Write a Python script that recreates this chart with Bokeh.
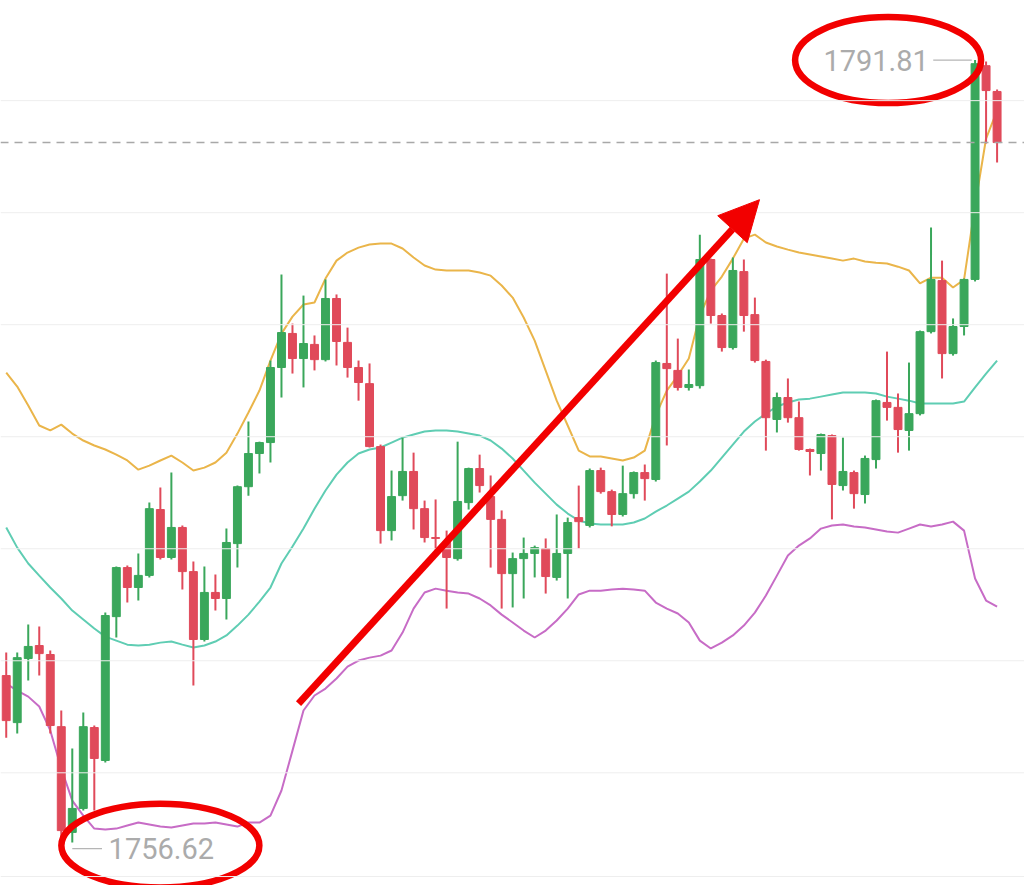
from bokeh.plotting import figure
from bokeh.models import Range1d, Span, Label, Arrow, NormalHead, ColumnDataSource
from bokeh.embed import file_html
from bokeh.resources import INLINE

# ---- data ----
opens = [1764.34, 1762.24, 1765.10, 1765.68, 1765.28, 1762.06, 1757.34, 1758.41, 1762.02, 1760.55,
 1766.97, 1769.16, 1768.27, 1768.81, 1771.75, 1769.61, 1770.95, 1768.98, 1765.95, 1768.05,
 1767.78, 1770.23, 1772.77, 1774.25, 1774.74, 1778.09, 1779.61, 1778.49, 1779.12, 1778.44,
 1781.17, 1779.21, 1778.09, 1777.37, 1774.56, 1770.81, 1772.37, 1773.45, 1771.79, 1770.50,
 1770.28, 1769.56, 1772.06, 1773.58, 1772.33, 1771.31, 1768.89, 1769.56, 1769.79, 1770.01,
 1768.72, 1769.79, 1771.39, 1771.04, 1773.49, 1772.55, 1771.53, 1772.46, 1773.40, 1773.09,
 1778.27, 1777.96, 1777.20, 1777.28, 1782.91, 1780.41, 1778.98, 1782.37, 1780.45, 1778.36,
 1775.77, 1776.75, 1775.85, 1774.43, 1774.25, 1775.05, 1772.82, 1773.40, 1772.42, 1773.98,
 1776.53, 1776.31, 1775.28, 1776.03, 1779.69, 1781.97, 1778.71, 1779.92, 1782.02, 1791.56,
 1790.41]
highs = [1765.37, 1765.37, 1766.62, 1766.53, 1765.46, 1762.78, 1761.08, 1762.69, 1762.11, 1767.15,
 1769.21, 1769.25, 1769.79, 1772.06, 1772.73, 1773.40, 1771.04, 1769.43, 1769.21, 1768.85,
 1770.90, 1772.82, 1775.68, 1774.78, 1778.40, 1782.24, 1780.05, 1781.30, 1779.52, 1782.02,
 1781.35, 1779.87, 1778.40, 1778.27, 1774.65, 1773.49, 1774.96, 1774.29, 1772.15, 1772.20,
 1770.81, 1774.78, 1773.62, 1774.20, 1773.27, 1771.71, 1769.83, 1770.50, 1770.14, 1770.46,
 1771.53, 1771.39, 1772.82, 1773.58, 1773.62, 1772.64, 1773.71, 1773.45, 1773.76, 1778.40,
 1782.28, 1779.38, 1778.00, 1784.02, 1782.95, 1780.50, 1783.00, 1782.91, 1781.21, 1778.44,
 1776.97, 1777.60, 1776.57, 1774.47, 1775.14, 1775.10, 1774.96, 1773.49, 1774.16, 1776.66,
 1778.80, 1776.93, 1778.31, 1779.74, 1784.34, 1782.86, 1780.28, 1782.06, 1791.81, 1791.75,
 1790.50]
lows = [1761.57, 1761.75, 1764.12, 1764.34, 1761.75, 1756.62, 1756.89, 1758.32, 1758.32, 1760.46,
 1766.04, 1767.60, 1767.69, 1768.72, 1769.52, 1769.52, 1768.18, 1763.90, 1765.86, 1767.24,
 1766.84, 1769.16, 1772.37, 1773.36, 1773.85, 1776.75, 1777.82, 1777.20, 1777.96, 1778.36,
 1778.18, 1777.64, 1776.61, 1774.52, 1770.23, 1770.37, 1772.15, 1770.86, 1770.28, 1769.92,
 1767.33, 1769.47, 1771.75, 1772.51, 1769.16, 1767.33, 1767.38, 1767.78, 1768.72, 1768.00,
 1768.58, 1767.78, 1770.01, 1770.95, 1772.46, 1771.00, 1771.44, 1772.24, 1772.15, 1773.00,
 1774.61, 1777.06, 1777.06, 1777.15, 1780.05, 1778.80, 1778.89, 1779.69, 1778.31, 1774.38,
 1775.19, 1775.63, 1774.38, 1773.27, 1773.49, 1771.31, 1772.60, 1771.79, 1772.02, 1773.58,
 1775.72, 1774.29, 1774.38, 1775.95, 1779.61, 1777.60, 1778.62, 1779.52, 1781.93, 1788.09,
 1787.24]
closes = [1762.33, 1765.14, 1765.64, 1765.32, 1762.11, 1757.42, 1758.41, 1762.06, 1760.64, 1767.02,
 1769.16, 1768.27, 1768.81, 1771.79, 1769.61, 1770.95, 1768.98, 1765.95, 1768.05, 1767.78,
 1770.28, 1772.77, 1774.25, 1774.74, 1778.09, 1779.65, 1778.49, 1779.16, 1778.44, 1781.17,
 1779.25, 1778.09, 1777.42, 1774.56, 1770.81, 1772.33, 1773.45, 1771.79, 1770.50, 1770.46,
 1769.61, 1772.11, 1773.58, 1772.82, 1771.31, 1768.89, 1769.56, 1769.79, 1770.05, 1768.76,
 1769.79, 1771.17, 1771.21, 1773.49, 1772.55, 1771.53, 1772.46, 1773.40, 1773.13, 1778.31,
 1778.04, 1777.20, 1777.33, 1782.91, 1780.41, 1778.98, 1782.42, 1780.41, 1778.40, 1775.85,
 1776.75, 1775.85, 1774.43, 1774.34, 1775.10, 1772.87, 1773.45, 1772.46, 1774.03, 1776.61,
 1776.31, 1775.32, 1776.03, 1779.69, 1782.02, 1778.71, 1779.92, 1782.02, 1791.65, 1790.45,
 1788.13]

boll_upper = [1777.86, 1777.24, 1776.39, 1775.50, 1775.28, 1775.54, 1775.14, 1774.83, 1774.61, 1774.43,
 1774.20, 1773.94, 1773.53, 1773.71, 1773.94, 1774.16, 1773.85, 1773.49, 1773.62, 1773.85,
 1774.29, 1775.14, 1776.08, 1777.06, 1778.40, 1779.60, 1780.36, 1780.90, 1780.99, 1782.06,
 1782.86, 1783.22, 1783.44, 1783.58, 1783.62, 1783.62, 1783.40, 1783.00, 1782.64, 1782.46,
 1782.42, 1782.42, 1782.42, 1782.33, 1782.19, 1781.75, 1781.21, 1780.32, 1779.29, 1777.95,
 1776.61, 1775.50, 1774.38, 1774.12, 1774.12, 1774.03, 1773.94, 1774.07, 1774.38, 1775.95,
 1777.06, 1777.73, 1778.49, 1780.41, 1781.52, 1782.15, 1782.95, 1783.84, 1784.02, 1783.67,
 1783.49, 1783.35, 1783.22, 1783.13, 1783.04, 1782.95, 1782.86, 1782.95, 1782.82, 1782.77,
 1782.73, 1782.59, 1782.42, 1781.84, 1782.10, 1782.10, 1781.66, 1782.01, 1785.32, 1788.31,
 1789.56]
boll_mid = [1770.95, 1770.05, 1769.34, 1768.80, 1768.27, 1767.78, 1767.24, 1766.84, 1766.44, 1766.08,
 1765.90, 1765.72, 1765.68, 1765.72, 1765.81, 1765.86, 1765.72, 1765.59, 1765.68, 1765.86,
 1766.13, 1766.57, 1767.06, 1767.64, 1768.27, 1769.34, 1770.10, 1770.90, 1771.79, 1772.60,
 1773.31, 1773.85, 1774.25, 1774.43, 1774.52, 1774.74, 1774.96, 1775.10, 1775.23, 1775.28,
 1775.28, 1775.23, 1775.14, 1775.05, 1774.83, 1774.47, 1774.03, 1773.49, 1772.95, 1772.46,
 1771.97, 1771.57, 1771.26, 1771.13, 1771.08, 1771.08, 1771.08, 1771.17, 1771.35, 1771.66,
 1771.93, 1772.24, 1772.55, 1773.00, 1773.49, 1774.07, 1774.65, 1775.23, 1775.68, 1776.03,
 1776.35, 1776.53, 1776.66, 1776.70, 1776.79, 1776.88, 1776.97, 1776.97, 1776.97, 1776.93,
 1776.79, 1776.70, 1776.61, 1776.48, 1776.48, 1776.48, 1776.48, 1776.57, 1777.20, 1777.82,
 1778.40]
boll_lower = [1763.98, 1763.67, 1763.40, 1762.96, 1761.89, 1760.19, 1758.76, 1758.09, 1757.51, 1757.47,
 1757.51, 1757.65, 1757.78, 1757.69, 1757.60, 1757.56, 1757.65, 1757.74, 1757.74, 1757.78,
 1757.69, 1757.60, 1757.78, 1757.78, 1758.09, 1759.21, 1760.99, 1762.78, 1763.45, 1763.76,
 1764.21, 1764.74, 1765.01, 1765.14, 1765.23, 1765.46, 1766.26, 1767.33, 1768.05, 1768.22,
 1768.13, 1768.05, 1768.00, 1767.78, 1767.47, 1767.06, 1766.71, 1766.35, 1766.04, 1766.35,
 1766.80, 1767.33, 1767.96, 1768.13, 1768.13, 1768.18, 1768.22, 1768.18, 1768.13, 1767.60,
 1767.33, 1767.11, 1766.71, 1765.90, 1765.55, 1765.81, 1766.13, 1766.57, 1767.15, 1767.91,
 1768.80, 1769.70, 1770.14, 1770.46, 1770.90, 1771.04, 1771.08, 1770.99, 1770.95, 1770.86,
 1770.77, 1770.72, 1770.90, 1771.08, 1770.99, 1771.08, 1771.21, 1770.81, 1768.67, 1767.69,
 1767.42]

grid_levels = [1760, 1765, 1770, 1775, 1780, 1785, 1790]
high_label = "1791.81"
low_label = "1756.62"
current_price = closes[-1]

# ---- styling ----
UP = "#3aa75b"
DOWN = "#e04a5a"
C_UPPER = "#eab54a"
C_MID = "#5fcdb3"
C_LOWER = "#c76cc6"
ANNOT = "#f20000"
LABEL_GREY = "#ababab"

n = len(opens)
idx = list(range(n))
colors = [UP if c >= o else DOWN for o, c in zip(opens, closes)]
src = ColumnDataSource(dict(
    x=idx, o=opens, h=highs, l=lows, c=closes,
    top=[max(o, c) for o, c in zip(opens, closes)],
    bot=[min(o, c) for o, c in zip(opens, closes)],
    color=colors))

p = figure(width=1024, height=885, output_backend="svg", toolbar_location=None,
           x_axis_location=None, y_axis_location=None,
           x_range=Range1d(-0.52, 92.49), y_range=Range1d(1754.97, 1794.47),
           min_border=0, outline_line_color=None, background_fill_color="white",
           border_fill_color="white")
p.xgrid.grid_line_color = None
p.ygrid.grid_line_color = None

for g in grid_levels:
    p.add_layout(Span(location=g, dimension="width", line_color="#eeeeee", line_width=1))
p.add_layout(Span(location=1755.37, dimension="width", line_color="#eeeeee", line_width=1))

# Bollinger bands
p.line(idx, boll_upper, line_color=C_UPPER, line_width=2)
p.line(idx, boll_mid, line_color=C_MID, line_width=2)
p.line(idx, boll_lower, line_color=C_LOWER, line_width=2)

# candles
p.segment(x0="x", y0="l", x1="x", y1="h", source=src, line_color="color", line_width=2)
p.vbar(x="x", width=0.72, top="top", bottom="bot", source=src,
       fill_color="color", line_color="color", line_width=1)

# current price dashed line
p.add_layout(Span(location=current_price, dimension="width", line_color="#a8a8a8",
                  line_width=1.6, line_dash="8 6"))

# max / min labels
imax = highs.index(max(highs))
imin = lows.index(min(lows))
p.segment(x0=[imax - 3.8], y0=[max(highs)], x1=[imax - 0.3], y1=[max(highs)],
          line_color="#b5b5b5", line_width=1.2)
p.add_layout(Label(x=imax - 4.2, y=max(highs), text=high_label, text_align="right",
                   text_baseline="middle", text_font="Roboto", text_font_size="29px",
                   text_color=LABEL_GREY))
p.segment(x0=[imin + 1.0], y0=[min(lows)], x1=[imin + 3.7], y1=[min(lows)],
          line_color="#b5b5b5", line_width=1.2)
p.add_layout(Label(x=imin + 4.3, y=min(lows), text=low_label, text_align="left",
                   text_baseline="middle", text_font="Roboto", text_font_size="29px",
                   text_color=LABEL_GREY))

# red ellipses around the labels
p.ellipse(x=[imax - 7.9], y=[max(highs)], width=186, height=86,
          width_units="screen", height_units="screen",
          fill_color=None, line_color=ANNOT, line_width=6.5)
p.ellipse(x=[imin + 9.0], y=[min(lows) + 0.13], width=198, height=84,
          width_units="screen", height_units="screen",
          fill_color=None, line_color=ANNOT, line_width=6.5)

# red trend arrow
p.add_layout(Arrow(end=NormalHead(size=40, fill_color=ANNOT, line_color=ANNOT),
                   x_start=26.55, y_start=1763.09, x_end=68.42, y_end=1785.58,
                   line_color=ANNOT, line_width=7))

open("out.html", "w").write(file_html(p, INLINE))
